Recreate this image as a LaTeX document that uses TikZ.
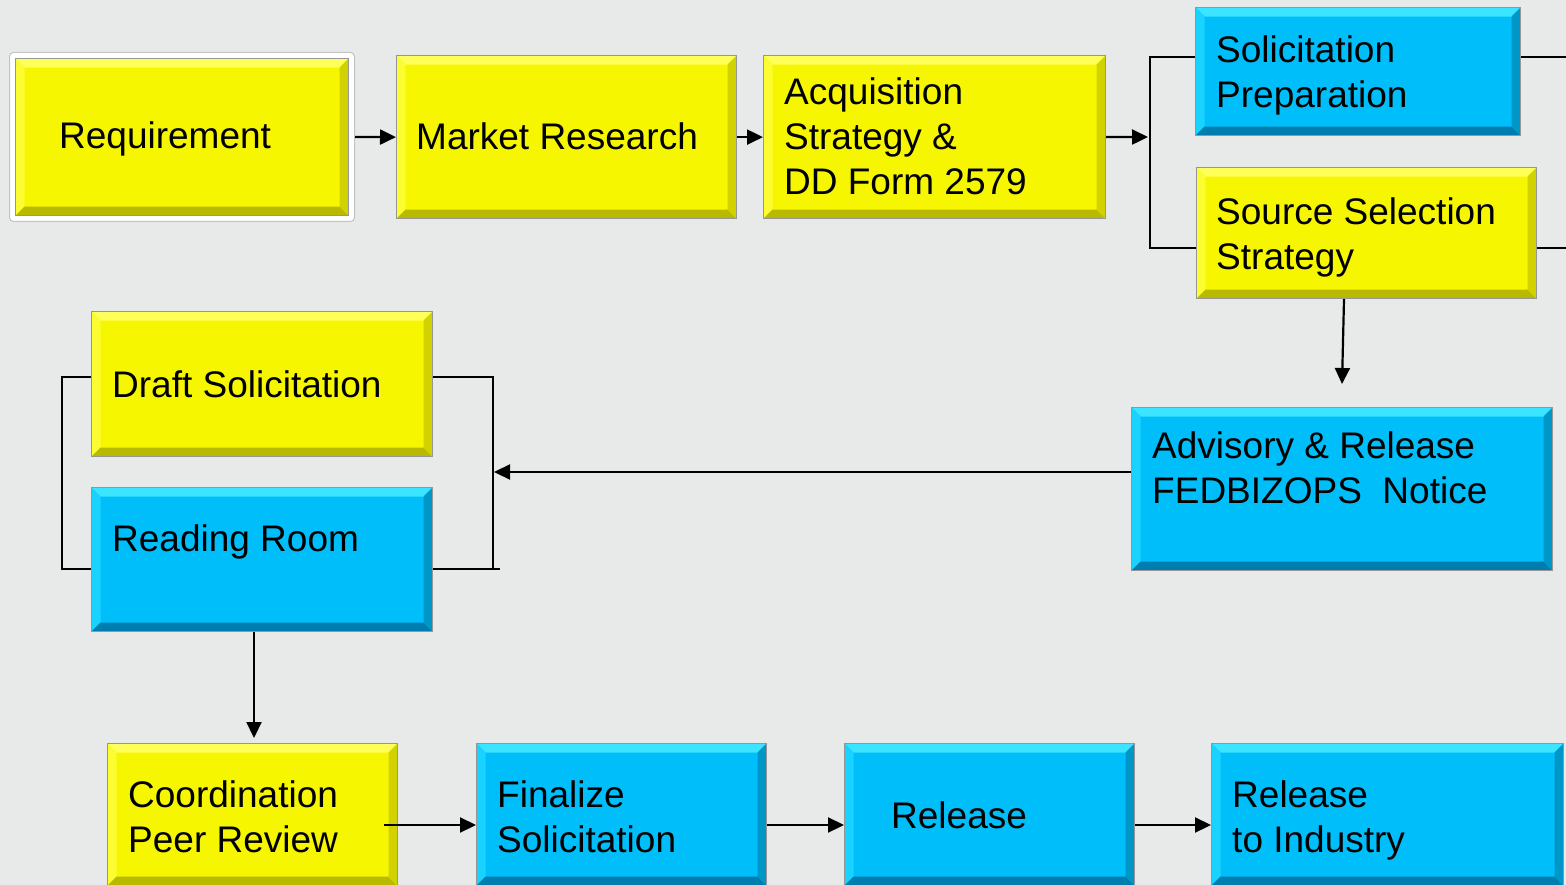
\documentclass[tikz,border=0pt]{standalone}
\usepackage{fontspec}
\setmainfont{Liberation Sans}
\usetikzlibrary{arrows.meta,calc}
\definecolor{bg}{RGB}{232,234,234}
\definecolor{boxline}{RGB}{150,150,150}
\definecolor{yel}{RGB}{246,246,0}
\definecolor{yelhi}{RGB}{255,255,90}
\definecolor{yellt}{RGB}{252,252,50}
\definecolor{yeldk}{RGB}{185,185,0}
\definecolor{yelrt}{RGB}{210,210,0}
\definecolor{cya}{RGB}{0,190,250}
\definecolor{cyahi}{RGB}{60,228,255}
\definecolor{cyalt}{RGB}{25,210,255}
\definecolor{cyadk}{RGB}{0,125,175}
\definecolor{cyart}{RGB}{0,150,200}
\def\bw{9}
\tikzset{
  bevel/.style n args={4}{path picture={
    \fill[#1] (path picture bounding box.north west) -- (path picture bounding box.north east)
      -- ($(path picture bounding box.north east)+(-\bw,\bw)$) -- ($(path picture bounding box.north west)+(\bw,\bw)$) -- cycle;
    \fill[#2] (path picture bounding box.north west) -- (path picture bounding box.south west)
      -- ($(path picture bounding box.south west)+(\bw,-\bw)$) -- ($(path picture bounding box.north west)+(\bw,\bw)$) -- cycle;
    \fill[#3] (path picture bounding box.south west) -- (path picture bounding box.south east)
      -- ($(path picture bounding box.south east)+(-\bw,-\bw)$) -- ($(path picture bounding box.south west)+(\bw,-\bw)$) -- cycle;
    \fill[#4] (path picture bounding box.north east) -- (path picture bounding box.south east)
      -- ($(path picture bounding box.south east)+(-\bw,-\bw)$) -- ($(path picture bounding box.north east)+(-\bw,\bw)$) -- cycle;
  }},
  box/.style={draw=boxline, line width=1.2pt, inner sep=0pt, anchor=north west},
  ybox/.style={box, fill=yel, bevel={yelhi}{yellt}{yeldk}{yelrt}},
  cbox/.style={box, fill=cya, bevel={cyahi}{cyalt}{cyadk}{cyart}},
  lbl/.style={anchor=base west, align=left, inner sep=0pt, font=\fontsize{37}{45}\selectfont},
  ln/.style={draw=black, line width=2.2pt},
  arr/.style={ln, -{Triangle[length=16pt,width=15pt]}}
}
\begin{document}
\begin{tikzpicture}[x=1pt,y=-1pt]
\fill[bg] (0,0) rectangle (1566,885);
\useasboundingbox (0,0) rectangle (1566,885);
% top row
\node[box, draw={rgb,255:red,195;green,195;blue,195}, fill=white, rounded corners=4pt, line width=1pt,
      minimum width=345pt, minimum height=169pt] (reqf) at (9,52) {};
\node[ybox, minimum width=333pt, minimum height=157pt] (req) at (15,58) {};
\node[lbl] (reqt) at (59,149) {Requirement};
\node[ybox, minimum width=340pt, minimum height=163pt] (mr) at (396,55) {};
\node[lbl] (mrt) at (416,150) {Market Research};
\node[ybox, minimum width=342pt, minimum height=163pt] (acq) at (763,55) {};
\node[lbl] (acqt) at (784,195) {Acquisition\\Strategy \&\\DD Form 2579};
\node[cbox, minimum width=325pt, minimum height=128pt] (sp) at (1195,7) {};
\node[lbl] (spt) at (1216,108) {Solicitation\\Preparation};
\node[ybox, minimum width=340pt, minimum height=131pt] (sss) at (1196,167) {};
\node[lbl] (ssst) at (1216,270) {Source Selection\\Strategy};
% middle
\node[cbox, minimum width=421pt, minimum height=163pt] (adv) at (1131,407) {};
\node[lbl] (advt) at (1152,503) {Advisory \& Release\\FEDBIZOPS\ \ Notice};
\node[ybox, minimum width=341pt, minimum height=145pt] (ds) at (91,311) {};
\node[lbl] (dst) at (112,397) {Draft Solicitation};
\node[cbox, minimum width=341pt, minimum height=144pt] (rr) at (91,487) {};
\node[lbl] (rrt) at (112,551) {Reading Room};
% bottom row
\node[ybox, minimum width=290pt, minimum height=142pt] (cpr) at (107,743) {};
\node[lbl] (cprt) at (128,852) {Coordination\\Peer Review};
\node[cbox, minimum width=290pt, minimum height=142pt] (fin) at (476,743) {};
\node[lbl] (fint) at (497,852) {Finalize\\Solicitation};
\node[cbox, minimum width=290pt, minimum height=142pt] (rel) at (844,743) {};
\node[lbl] (relt) at (891,828) {Release};
\node[cbox, minimum width=352pt, minimum height=142pt] (rti) at (1211,743) {};
\node[lbl] (rtit) at (1232,852) {Release\\to Industry};
% connectors
\draw[arr] (reqf.east) -- (mr.west);
\draw[arr] (mr.east) -- (acq.west);
\coordinate (b1) at (1148,137);
\coordinate (bt) at (1150,57);
\coordinate (bb) at (1150,248);
\draw[arr] (acq.east) -- (b1);
\draw[ln] (sp.west|-bt) -- (bt) -- (bb) -- (sss.west|-bb);
\coordinate (rt1) at (1570,57);
\coordinate (rt2) at (1570,248);
\draw[ln] (sp.east|-rt1) -- (rt1);
\draw[ln] (sss.east|-rt2) -- (rt2);
\coordinate (ssd) at (1342,384);
\draw[arr] (1344,0|-sss.south) -- (ssd);
\coordinate (lb) at (494,472);
\draw[arr] (adv.west|-lb) -- (lb);
\coordinate (rbt) at (493,377);
\coordinate (rbb) at (493,569);
\coordinate (rbe) at (500,569);
\coordinate (lbt) at (62,377);
\coordinate (lbb) at (62,569);
\draw[ln] (ds.east|-rbt) -- (rbt) -- (rbb);
\draw[ln] (rr.east|-rbb) -- (rbe);
\draw[ln] (ds.west|-lbt) -- (lbt) -- (lbb) -- (rr.west|-lbb);
\coordinate (rrd) at (254,738);
\draw[arr] (rr.south-|rrd) -- (rrd);
\coordinate (hb) at (0,825);
\draw[arr] ([xshift=-14pt]cpr.east|-hb) -- (fin.west|-hb);
\draw[arr] (fin.east|-hb) -- (rel.west|-hb);
\draw[arr] (rel.east|-hb) -- (rti.west|-hb);
\end{tikzpicture}
\end{document}
